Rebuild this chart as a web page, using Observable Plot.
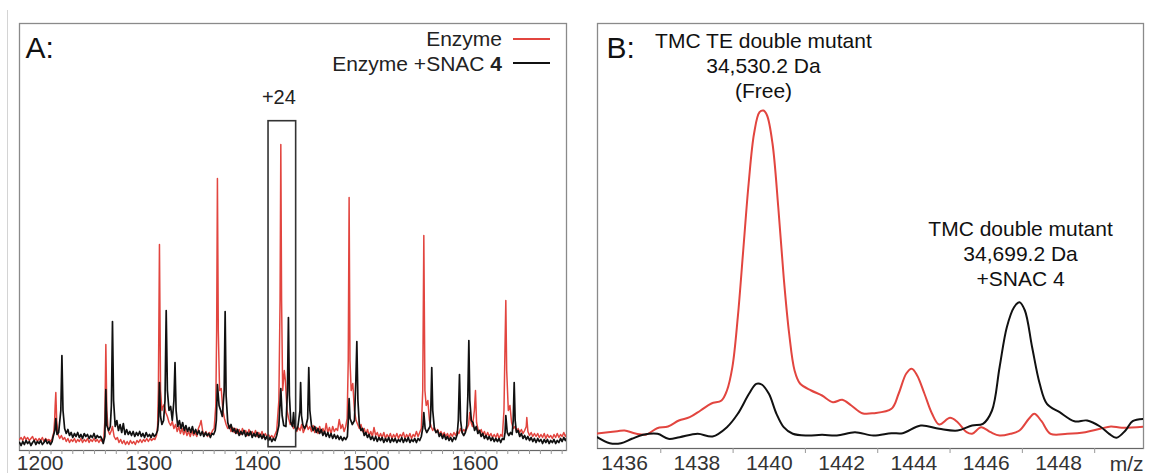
<!DOCTYPE html>
<html>
<head>
<meta charset="utf-8">
<script src="https://cdn.jsdelivr.net/npm/d3@7"></script>
<script src="https://cdn.jsdelivr.net/npm/@observablehq/plot@0.6"></script>
<style>
  html, body { margin: 0; padding: 0; background: #fff; }
  #wrap { position: relative; width: 1152px; height: 473px; overflow: hidden; }
  #wrap > .panel { position: absolute; top: 0; }
  #edge { position: absolute; left: 7px; top: 10px; width: 1px; height: 463px; background: #d4d4d4; }
</style>
</head>
<body>
<div id="wrap"><div id="edge"></div></div>
<script>
// ---------- Panel A : full charge-state envelope (m/z vs intensity, a.u.) ----------
const enzymeA = [
  [1181,11],[1182.5,13],[1184,10],[1185.5,14],[1187,11],[1188.5,13],[1190,10],[1191.5,12],[1193,14],[1194.5,10],[1196,12],[1197.5,9],[1199,12],[1200.5,10],[1202,13],[1203.5,9],[1205,12],[1206.5,10],[1208,11],[1209.5,9],[1211,12],
  [1212.5,18],[1213.3,30],[1213.8,45],[1214.4,58],[1215.2,30],[1216.5,16],[1218,12],[1219.5,15],[1221,11],[1222.5,13],[1224,9],[1225.5,12],[1227,8],[1228.5,11],[1230,9],[1231.5,12],[1233,8],[1234.5,11],[1236,9],[1237.5,12],[1239,8],[1240.5,11],[1242,9],[1243.5,12],[1245,8],[1246.5,11],[1248,9],[1249.5,12],[1251,9],[1252.5,11],[1254,8],[1255.5,11],[1257,9],[1258.5,12],
  [1259.5,30],[1260.4,106],[1261.3,40],[1262.5,20],[1264,16],[1265.5,20],[1266.5,24],[1268,14],[1269.5,11],[1271,13],[1272.5,8],[1274,11],[1275.5,7],[1277,10],[1278.5,6],[1280,9],[1281.5,6],[1283,10],[1284.5,7],[1286,9],[1287.5,6],[1289,10],[1290.5,8],[1292,11],[1293.5,8],[1295,11],[1296.5,9],[1298,12],[1299.5,9],[1301,12],[1302.5,10],[1304,12],[1305.5,11],[1307,15],
  [1308,25],[1308.7,60],[1309.7,206],[1310.7,60],[1312,40],[1313,44],[1314,46],[1315.5,38],[1317,34],[1318.5,28],[1320,25],[1321.5,29],[1323,22],[1324.5,26],[1326,19],[1327.5,24],[1329,17],[1330.5,22],[1332,16],[1333.5,21],[1335,15],[1336.5,19],[1338,14],[1339.5,20],[1341,15],[1342.5,18],[1344,14],[1345.5,22],[1347,26],[1348,30],[1349.5,19],[1351,15],[1352.5,19],[1354,14],[1355.5,18],[1357,16],[1358.5,20],[1360,22],
  [1361.5,45],[1362.3,120],[1363,272],[1363.8,120],[1365,60],[1366.5,62],[1368,40],[1369.5,32],[1371,26],[1372.5,22],[1374,25],[1375.5,19],[1377,23],[1378.5,18],[1380,22],[1381.5,17],[1383,21],[1384.5,16],[1386,22],[1387.5,17],[1389,20],[1390.5,15],[1392,21],[1393.5,16],[1395,19],[1396.5,15],[1398,20],[1399.5,14],[1401,18],[1402.5,14],[1404,19],[1405.5,13],[1407,17],[1408.5,14],[1410,16],[1411.5,13],[1413,15],[1414.5,12],[1416,16],[1417.5,20],
  [1419.5,50],[1420.6,150],[1421.3,306],[1422,150],[1423,60],[1424.5,80],[1425.5,70],[1427,40],[1428.5,32],[1430,26],[1431.5,28],[1433,22],[1434.5,25],[1436,19],[1437.5,23],[1439,20],[1440.5,26],[1442,18],[1443.5,22],[1445,26],[1446.5,21],[1448,24],[1449.5,19],[1451,25],[1452.5,18],[1454,23],[1455.5,17],[1457,24],[1458.5,18],[1460,22],[1461.5,17],[1463,27],[1464.5,18],[1466,23],[1467.5,17],[1469,24],[1470.5,19],[1472,22],[1473.5,20],[1475,31],[1476.5,22],[1478,26],[1479.5,19],[1481,24],[1482.3,32],
  [1483.3,90],[1484.1,253],[1484.9,90],[1486,60],[1487.5,67],[1489,40],[1490.5,30],[1492,26],[1493.5,22],[1495,26],[1496.5,19],[1498,22],[1499.5,16],[1501,21],[1502.5,15],[1504,19],[1505.5,14],[1507,23],[1508.5,15],[1510,18],[1511.5,13],[1513,17],[1514.5,13],[1516,18],[1517.5,12],[1519,16],[1520.5,13],[1522,17],[1523.5,12],[1525,16],[1526.5,13],[1528,17],[1529.5,12],[1531,16],[1532.5,14],[1534,18],[1535.5,12],[1537,16],[1538.5,13],[1540,17],[1541.5,12],[1543,16],[1544.5,14],[1546,19],[1547.5,14],[1549,18],[1550.5,22],
  [1551.8,60],[1552.8,215],[1553.8,60],[1555,45],[1556.5,50],[1558,30],[1559.5,24],[1561,20],[1562.5,23],[1564,18],[1565.5,21],[1567,16],[1568.5,19],[1570,15],[1571.5,18],[1573,14],[1574.5,17],[1576,13],[1577.5,17],[1579,14],[1580.5,18],[1582,15],[1583.5,19],[1585,17],[1586.5,22],[1588,18],[1589.5,21],[1591,19],[1592.5,22],[1594,26],[1595,38],[1596.3,28],[1597.5,24],[1599.3,40],[1600.3,60],[1601.3,28],[1602.5,22],[1604,18],[1605.5,21],[1607,16],[1608.5,19],[1610,14],[1611.5,18],[1613,14],[1614.5,17],[1616,13],[1617.5,16],[1619,13],[1620.5,17],[1622,12],[1623.5,16],[1625,14],
  [1626.5,40],[1627.4,100],[1628.2,150],[1629,80],[1630.5,40],[1632,45],[1633.5,28],[1635,22],[1636.5,24],[1638,19],[1639.5,22],[1641,18],[1642.5,21],[1644,17],[1645.5,20],[1647,24],[1647.5,33],[1648.5,19],[1650,15],[1651.5,18],[1653,14],[1654.5,17],[1656,14],[1657.5,17],[1659,13],[1660.5,16],[1662,13],[1663.5,17],[1665,12],[1666.5,16],[1668,13],[1669.5,15],[1671,12],[1672.5,16],[1674,13],[1675.5,17],[1677,13],[1678.5,16],[1680,14],[1681.5,18],[1683,14],[1684,16]
];
const snacA = [
  [1181,8],[1182.5,5],[1184,9],[1185.5,6],[1187,10],[1188.5,7],[1190,9],[1191.5,5],[1193,8],[1194.5,10],[1196,6],[1197.5,9],[1199,7],[1200.5,10],[1202,6],[1203.5,8],[1205,11],[1206.5,7],[1208,9],[1209.5,6],[1211,9],
  [1212,14],[1213.5,20],[1214.4,32],[1215.5,16],[1217,18],[1219,40],[1220,95],[1221,40],[1222.5,22],[1224,17],[1225.5,21],[1227,15],[1228.5,18],[1230,13],[1231.5,17],[1233,14],[1234.5,18],[1236,13],[1237.5,16],[1239,12],[1240.5,17],[1242,14],[1243.5,16],[1245,12],[1246.5,15],[1248,13],[1249.5,17],[1251,12],[1252.5,15],[1254,13],[1255.5,14],[1257,11],[1258,7],[1259.5,14],
  [1260.4,61],[1261.3,25],[1263,20],[1264.5,24],[1265.5,45],[1266.5,129],[1267.5,50],[1269,24],[1270.5,30],[1272,20],[1273.5,26],[1275,18],[1276.5,27],[1278,16],[1279.5,21],[1281,16],[1282.5,19],[1284,15],[1285.5,19],[1287,14],[1288.5,18],[1290,15],[1291.5,19],[1293,14],[1294.5,17],[1296,13],[1297.5,18],[1299,14],[1300.5,16],[1302,13],[1303.5,17],[1305,14],[1306.5,16],
  [1308,20],[1308.8,30],[1309.7,68],[1310.7,34],[1312,26],[1313.5,30],[1314.8,50],[1315.9,140],[1317,60],[1318.5,40],[1320,44],[1321.5,30],[1323,50],[1324,88],[1325,40],[1326.5,24],[1328,30],[1329.5,22],[1331,28],[1332.5,20],[1334,25],[1335.5,19],[1337,23],[1338.5,18],[1340,24],[1341.5,17],[1343,21],[1344.5,16],[1346,20],[1347.5,15],[1349,19],[1350.5,14],[1352,18],[1353.5,15],[1355,17],[1356.5,13],[1358,17],[1359.5,16],[1361,20],
  [1362,30],[1363,66],[1364.5,45],[1366,40],[1367.5,34],[1369.2,60],[1370.1,139],[1371,55],[1372.5,28],[1374,22],[1375.5,26],[1377,19],[1378.5,22],[1380,17],[1381.5,21],[1383,15],[1384.5,19],[1386,16],[1387.5,20],[1389,14],[1390.5,18],[1392,15],[1393.5,19],[1395,13],[1396.5,17],[1398,14],[1399.5,18],[1401,13],[1402.5,16],[1404,12],[1405.5,16],[1407,11],[1408.5,14],[1410,10],[1411.5,13],[1413,9],[1414.5,12],[1416,10],[1417.5,15],
  [1419.5,25],[1421.3,62],[1422.5,35],[1424,25],[1426,24],[1427.4,60],[1428.3,133],[1429.2,55],[1430.5,28],[1432,24],[1433,38],[1434,24],[1435.5,20],[1437,24],[1438.9,40],[1439.5,68],[1440.3,35],[1441.5,26],[1443,22],[1444.5,25],[1446,32],[1447,83],[1448,40],[1449.5,25],[1451,20],[1452.5,24],[1454,18],[1455.5,22],[1457,17],[1458.5,21],[1460,15],[1461.5,19],[1463,14],[1464.5,18],[1466,13],[1467.5,17],[1469,12],[1470.5,16],[1472,12],[1473.5,15],[1475,11],[1476.5,14],[1478,10],[1479.5,13],[1481,11],[1482.5,14],
  [1483.3,30],[1484.1,52],[1485,32],[1487,26],[1489,30],[1490.3,70],[1491.2,109],[1492.2,50],[1493.5,26],[1495,20],[1496.5,22],[1498,15],[1499.5,18],[1501,13],[1502.5,16],[1504,11],[1505.5,14],[1507,10],[1508.5,14],[1510,9],[1511.5,13],[1513,10],[1514.5,13],[1516,8],[1517.5,12],[1519,9],[1520.5,13],[1522,8],[1523.5,12],[1525,9],[1526.5,12],[1528,8],[1529.5,11],[1531,9],[1532.5,13],[1534,8],[1535.5,12],[1537,9],[1538.5,13],[1540,8],[1541.5,11],[1543,9],[1544.5,12],[1546,8],[1547.5,12],[1549,10],[1550.5,14],
  [1552,24],[1552.8,38],[1554,22],[1555.5,18],[1557,21],[1558.5,24],[1559.2,40],[1560.1,83],[1561,40],[1562.5,22],[1564,18],[1565.5,20],[1567,14],[1568.5,17],[1570,12],[1571.5,16],[1573,11],[1574.5,14],[1576,10],[1577.5,13],[1579,9],[1580.5,13],[1582,11],[1583.5,16],[1584.5,30],[1585.6,76],[1586.6,30],[1588,18],[1589.5,15],[1591,18],[1592.3,25],[1593.3,55],[1594.2,110],[1595.1,50],[1596.5,30],[1598,28],[1599.5,20],[1601,24],[1602.5,17],[1604,20],[1605.5,14],[1607,17],[1608.5,12],[1610,15],[1611.5,11],[1613,14],[1614.5,10],[1616,13],[1617.5,9],[1619,12],[1620.5,9],[1622,12],[1623.5,8],[1625,12],[1626.5,11],
  [1627.5,18],[1628.2,35],[1629.5,18],[1631,15],[1632.5,18],[1634,16],[1635,30],[1635.9,68],[1636.8,30],[1638,18],[1639.5,20],[1641,14],[1642.5,17],[1644,12],[1645.5,15],[1647,11],[1648.5,14],[1650,10],[1651.5,13],[1653,9],[1654.5,12],[1656,8],[1657.5,12],[1659,9],[1660.5,11],[1662,7],[1663.5,11],[1665,8],[1666.5,11],[1668,7],[1669.5,10],[1671,8],[1672.5,11],[1674,7],[1675.5,10],[1677,8],[1678.5,12],[1680,9],[1681.5,13],[1683,10],[1684,12]
];
const boxA = [{x1: 1410, x2: 1435.4, y1: 3.3, y2: 329.3, label: "+24"}];
const majorTicksA = [1200, 1300, 1400, 1500, 1600];
const minorTicksA = [1190, 1200, 1210, 1220, 1230, 1240, 1250, 1260, 1270, 1280, 1290, 1300, 1310, 1320, 1330, 1340, 1350, 1360, 1370, 1380, 1390, 1400, 1410, 1420, 1430, 1440, 1450, 1460, 1470, 1480, 1490, 1500, 1510, 1520, 1530, 1540, 1550, 1560, 1570, 1580, 1590, 1600, 1610, 1620, 1630, 1640, 1650, 1660, 1670, 1680];

// ---------- Panel B : zoom on the +24 charge state ----------
const enzymeB = [
  [1435.24,15],[1435.8,17.3],[1436.0,18],[1436.3,15],[1436.6,14],[1436.9,20.3],[1437.2,22],[1437.5,28],
  [1437.8,31.3],[1438.1,38],[1438.4,45],[1438.68,48],[1438.83,58],[1438.98,81.3],[1439.13,131.3],[1439.28,198],
  [1439.43,265],[1439.58,315],[1439.73,336.3],[1439.84,338],[1439.94,333],[1440.09,305],[1440.25,241],
  [1440.4,171],[1440.55,115],[1440.7,78],[1440.85,65],[1441.16,58],[1441.46,53],[1441.76,46.3],[1442.02,48.7],
  [1442.27,43],[1442.57,35.3],[1442.88,35.3],[1443.38,39.7],[1443.58,55],[1443.79,75],[1443.94,79.7],[1444.09,73],
  [1444.29,55],[1444.5,35],[1444.7,24],[1445.0,30.7],[1445.21,26.3],[1445.46,16.3],[1445.61,14.7],[1445.86,21.3],
  [1446.12,16.3],[1446.37,13],[1446.67,14.7],[1446.92,18],[1447.18,29.7],[1447.33,34.7],[1447.53,27.3],
  [1447.78,14.7],[1448.24,14.7],[1448.74,16.3],[1449.15,19.7],[1449.45,22],[1449.75,20.7],[1450.46,22]
];
const snacB = [
  [1435.24,11.3],[1435.59,5.3],[1435.9,5.3],[1436.2,9.7],[1436.51,13.7],[1436.91,14.7],[1437.21,9.7],
  [1437.52,11.3],[1438.02,14.7],[1438.43,12],[1438.83,21.3],[1439.13,34.7],[1439.44,54.7],[1439.64,64.7],
  [1439.79,64],[1439.99,54.7],[1440.2,34.7],[1440.4,21.3],[1440.65,14.7],[1441.06,13],[1441.46,13.7],
  [1441.87,13],[1442.37,16.3],[1442.88,13],[1443.38,15.3],[1443.69,15.3],[1444.19,23],[1444.7,19.7],
  [1445.21,18],[1445.61,23],[1445.91,24.7],[1446.16,38],[1446.37,81.3],[1446.57,121.3],[1446.77,141.3],
  [1446.92,146.3],[1447.07,138],[1447.27,101.3],[1447.48,64.7],[1447.68,44.7],[1448.03,36.3],[1448.44,27.3],
  [1448.79,28],[1449.15,22],[1449.4,14.7],[1449.6,10.7],[1449.85,18],[1450.05,27.3],[1450.46,29.7]
];
const peakLabelsB = [
  {mz: 1439.84, level: 351, text: "TMC TE double mutant\n34,530.2 Da\n(Free)"},
  {mz: 1446.95, level: 163, text: "TMC double mutant\n34,699.2 Da\n+SNAC 4"}
];
const labelTicksB = [1436, 1438, 1440, 1442, 1444, 1446, 1448];
const markTicksB = [1437, 1439, 1441, 1443, 1445, 1447, 1449];
const axisUnitB = "m/z";

const seriesNames = ["Enzyme", "Enzyme +SNAC 4"];
// ---------------------------------------------------------------

const RED = "#e2453f", BLACK = "#111111";
const FONT = '"Liberation Sans", Arial, Helvetica, sans-serif';
const rows = (arr) => arr.map(([mz, v]) => ({mz, v}));
const wrap = document.getElementById("wrap");

const plotA = Plot.plot({
  width: 590, height: 473,
  marginLeft: 19, marginRight: 24, marginTop: 23, marginBottom: 23,
  x: {domain: [1181, 1684], label: null},
  y: {domain: [0, 427], axis: null, label: null},
  style: {fontFamily: FONT, background: "transparent", overflow: "visible"},
  marks: [
    Plot.frame({stroke: "#8a8a8a", strokeWidth: 1.3}),
    Plot.line(rows(enzymeA), {x: "mz", y: "v", stroke: RED, strokeWidth: 1.5, clip: true}),
    Plot.line(rows(snacA), {x: "mz", y: "v", stroke: BLACK, strokeWidth: 1.7, clip: true}),
    Plot.rect(boxA, {x1: "x1", x2: "x2", y1: "y1", y2: "y2", fill: "none", stroke: "#333", strokeWidth: 1.6}),
    Plot.text(boxA, {x: d => d.x1 + 9.5, y: 347, text: "label", fontSize: 20, fill: "#222", lineAnchor: "bottom"}),
    Plot.ruleY([0], {stroke: "#666", strokeWidth: 1.2}),
    Plot.axisX({ticks: minorTicksA, tickSize: 4, tickFormat: () => "", stroke: "#999", label: null}),
    Plot.axisX({ticks: majorTicksA, tickSize: 0, tickPadding: 5, tickFormat: "d", fontSize: 21, fill: "#333", label: null}),
    Plot.text(["A:"], {frameAnchor: "top-left", textAnchor: "start", lineAnchor: "bottom", dx: 6, dy: 34, fontSize: 30, fill: "#111"})
  ]
});
plotA.classList.add("panel");
plotA.style.left = "0px";
wrap.appendChild(plotA);

const plotB = Plot.plot({
  width: 572, height: 473,
  marginLeft: 17, marginRight: 9, marginTop: 23, marginBottom: 25,
  x: {domain: [1435.25, 1450.35], label: null},
  y: {domain: [0, 425], axis: null, label: null},
  style: {fontFamily: FONT, background: "transparent", overflow: "visible"},
  marks: [
    Plot.frame({stroke: "#8a8a8a", strokeWidth: 1.3}),
    Plot.line(rows(enzymeB), {x: "mz", y: "v", stroke: RED, strokeWidth: 2, curve: "catmull-rom", clip: true}),
    Plot.line(rows(snacB), {x: "mz", y: "v", stroke: BLACK, strokeWidth: 2, curve: "catmull-rom", clip: true}),
    Plot.text(peakLabelsB, {x: "mz", y: "level", text: "text", fontSize: 21, fill: "#111", lineAnchor: "bottom", lineHeight: 1.19}),
    Plot.ruleY([0], {stroke: "#666", strokeWidth: 1.2}),
    Plot.axisX({ticks: markTicksB, tickSize: 5, tickFormat: () => "", stroke: "#999", label: null}),
    Plot.axisX({ticks: labelTicksB, tickSize: 0, tickPadding: 7, tickFormat: "d", fontSize: 21, fill: "#333", label: null}),
    Plot.text([axisUnitB], {frameAnchor: "bottom-right", textAnchor: "end", lineAnchor: "bottom", dy: 22, fontSize: 21, fill: "#333"}),
    Plot.text(["B:"], {frameAnchor: "top-left", textAnchor: "start", lineAnchor: "bottom", dx: 9, dy: 34, fontSize: 30, fill: "#111"})
  ]
});
plotB.classList.add("panel");
plotB.style.left = "580px";
wrap.appendChild(plotB);

// Legend for panel A (overlay)
const leg = d3.select(wrap).append("svg")
  .attr("width", 260).attr("height", 60)
  .style("position", "absolute").style("left", "300px").style("top", "20px")
  .style("font-family", FONT).style("font-size", "21px");
const legRows = [
  {name: seriesNames[0], color: RED, base: 26, mid: 19},
  {name: seriesNames[1], color: BLACK, base: 50.5, mid: 43}
];
legRows.forEach((r, i) => {
  const t = leg.append("text").attr("x", 202).attr("y", r.base).attr("text-anchor", "end").attr("fill", "#222");
  if (i === 1) {
    t.append("tspan").text(r.name.slice(0, -1));
    t.append("tspan").attr("font-weight", "bold").text(r.name.slice(-1));
  } else {
    t.text(r.name);
  }
  leg.append("line").attr("x1", 213).attr("x2", 250).attr("y1", r.mid).attr("y2", r.mid)
    .attr("stroke", r.color).attr("stroke-width", 2);
});
</script>
</body>
</html>
